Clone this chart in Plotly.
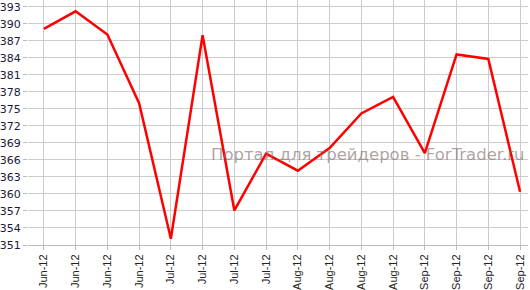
import plotly.graph_objects as go

categories = ["Jun-12", "Jun-12", "Jun-12", "Jun-12",
              "Jul-12", "Jul-12", "Jul-12", "Jul-12",
              "Aug-12", "Aug-12", "Aug-12", "Aug-12",
              "Sep-12", "Sep-12", "Sep-12", "Sep-12"]
values = [389.1, 392.2, 388.1, 376.0, 352.1, 388.0, 357.1, 367.1,
          364.1, 368.1, 374.2, 377.1, 367.2, 384.6, 383.8, 360.4]
y_ticks = list(range(351, 394, 3))

xs = list(range(len(categories)))

fig = go.Figure()
fig.add_trace(go.Scatter(x=xs, y=values, mode="lines",
                         line=dict(color="#ff0000", width=2.5),
                         hoverinfo="skip", showlegend=False))

fig.add_annotation(text="Портал для трейдеров - ForTrader.ru",
                   xref="paper", yref="paper", x=0.68, y=0.37,
                   xanchor="center", yanchor="middle", showarrow=False,
                   font=dict(family="DejaVu Sans", size=16.5,
                             color="rgba(130,110,110,0.65)"))

fig.update_layout(
    width=530, height=290,
    margin=dict(l=26, r=2, t=0, b=44),
    paper_bgcolor="white", plot_bgcolor="white",
    xaxis=dict(range=[-0.5, 15.25], tickmode="array", tickvals=xs,
               ticktext=categories, tickangle=-90,
               showgrid=True, gridcolor="#cccccc", gridwidth=1,
               zeroline=False, showline=True, linecolor="#bbbbbb",
               linewidth=1, ticks="outside", ticklen=4, tickcolor="#bbbbbb",
               tickfont=dict(family="Liberation Sans", size=11, color="#222222")),
    yaxis=dict(range=[351, 394.2], tickmode="array", tickvals=y_ticks,
               ticktext=[str(v) for v in y_ticks],
               showgrid=True, gridcolor="#cccccc", gridwidth=1,
               zeroline=False, showline=False,
               ticks="outside", ticklen=4, tickcolor="#bbbbbb",
               tickfont=dict(family="DejaVu Sans", size=11, color="#1a1a3a")),
)

fig.write_html("out.html")
